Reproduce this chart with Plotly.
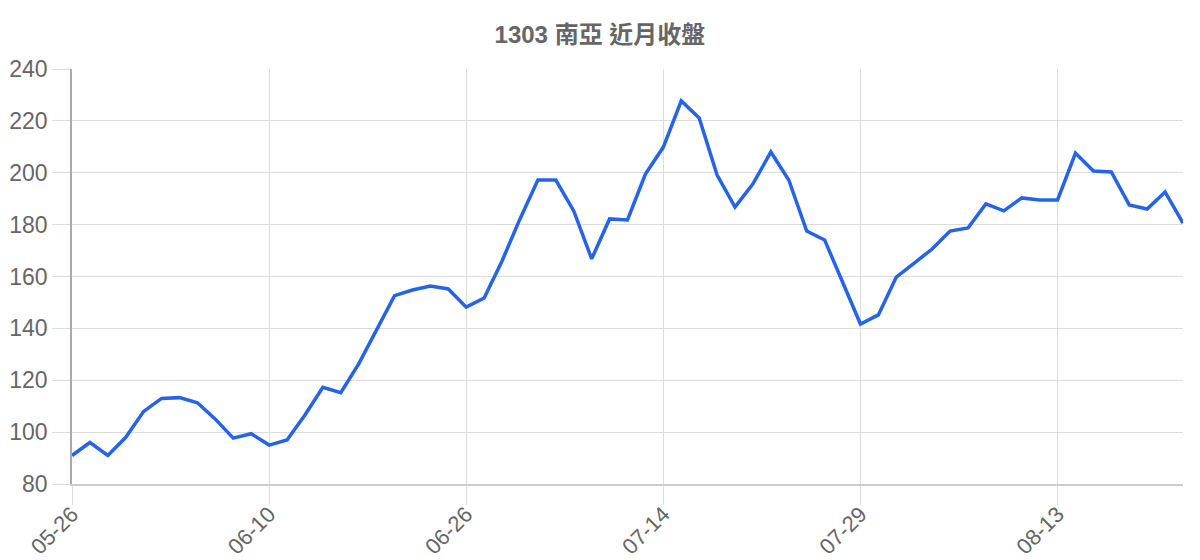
import plotly.graph_objects as go

# trading days (MM-DD), one close per day
dates = [
    '05-26', '05-27', '05-28', '05-29', '05-30', '06-02', '06-03', '06-04', '06-05', '06-06',
    '06-09', '06-10', '06-11', '06-12', '06-13', '06-16', '06-17', '06-18', '06-19', '06-20',
    '06-23', '06-24', '06-26', '06-27', '06-30', '07-01', '07-02', '07-03', '07-04', '07-07',
    '07-08', '07-09', '07-11', '07-14', '07-15', '07-16', '07-17', '07-18', '07-21', '07-22',
    '07-23', '07-24', '07-25', '07-28', '07-29', '07-30', '07-31', '08-01', '08-04', '08-05',
    '08-06', '08-07', '08-08', '08-11', '08-12', '08-13', '08-14', '08-15', '08-18', '08-19',
    '08-20', '08-21', '08-22',
]

closes = [
    91, 96, 91, 98, 108, 113, 113.3, 111.3, 105, 97.7,
    99.4, 95, 97, 106.6, 117.3, 115.2, 126.3, 139.4, 152.6, 154.8,
    156.3, 155.2, 148.2, 151.7, 166, 182.2, 197.2, 197.2, 185.3, 166.8,
    182.2, 181.8, 199.5, 209.9, 227.7, 221.1, 199.1, 186.8, 195.7, 208,
    197.2, 177.5, 174.1, 157.9, 141.7, 145.2, 159.8, 165.2, 170.6, 177.5,
    178.7, 188, 185.3, 190.3, 189.5, 189.5, 207.6, 200.7, 200.3, 187.6,
    186, 192.6, 180.6,
]

tick_labels = dates[::11]
title_text = '1303 南亞 近月收盤'

FONT = 'Liberation Sans, Arial, Noto Sans CJK TC, sans-serif'
GRID = '#dcdcdc'
TEXT = '#666666'

fig = go.Figure()
fig.add_trace(go.Scatter(
    x=dates,
    y=closes,
    mode='lines',
    line=dict(color='#2563eb', width=3.5),
    hoverinfo='x+y',
))

# page body has an 8px margin, so the figure is a bit smaller than the window
fig.update_layout(
    width=1192,
    height=552,
    plot_bgcolor='white',
    paper_bgcolor='white',
    showlegend=False,
    margin=dict(l=64, r=17, t=61, b=76),
    title=dict(
        text='<b>' + title_text + '</b>',
        x=0.4966, xanchor='center',
        y=0.951, yanchor='middle',
        font=dict(family=FONT, size=24, color=TEXT),
    ),
    font=dict(family=FONT, color=TEXT),
)

fig.update_xaxes(
    type='category',
    automargin=False,
    range=[0, len(dates) - 1],
    tickmode='array',
    tickvals=tick_labels,
    ticktext=tick_labels,
    tickangle=-45,
    tickfont=dict(size=22, color=TEXT),
    ticklabelstandoff=-12,
    showgrid=True,
    gridcolor=GRID,
    gridwidth=1.3,
    ticks='outside',
    ticklen=19,
    tickcolor=GRID,
    tickwidth=1.3,
    showline=True,
    linecolor='#cccccc',
    linewidth=1.5,
    zeroline=False,
)

fig.update_yaxes(
    automargin=False,
    range=[80, 240],
    dtick=20,
    tickfont=dict(size=23, color=TEXT),
    showgrid=True,
    gridcolor=GRID,
    gridwidth=1.3,
    ticks='outside',
    ticklen=18,
    tickcolor=GRID,
    tickwidth=1.3,
    showline=True,
    linecolor='#aaaaaa',
    linewidth=1.5,
    zeroline=False,
)

fig.write_html('out.html')
